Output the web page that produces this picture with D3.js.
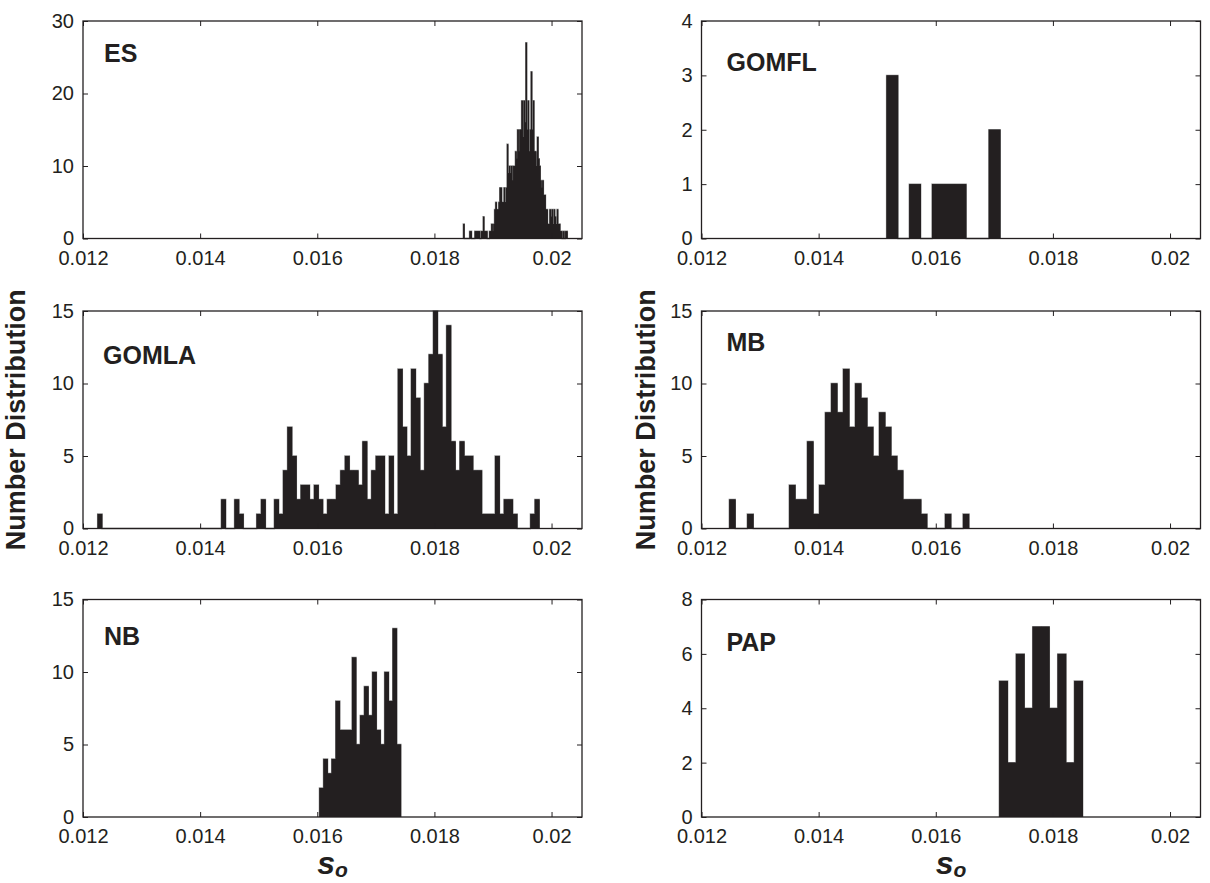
<!DOCTYPE html>
<html>
<head>
<meta charset="utf-8">
<script src="https://cdn.jsdelivr.net/npm/d3@7/dist/d3.min.js"></script>
<style>
  body { margin: 0; background: #fff; }
  svg { display: block; font-family: Arial, "Liberation Sans", Helvetica, sans-serif; }
</style>
</head>
<body>
<div id="chart"></div>
<script>
// panel names, in reading order (left->right, top->bottom)
var panelNames = ["ES", "GOMFL", "GOMLA", "MB", "NB", "PAP"];

// histogram bins: first edge and width
var binStarts = [0.018493, 0.01516, 0.01225, 0.012475, 0.016037, 0.017085];
var binWidths = [0.00001777, 0.000194, 0.0000754, 0.0001023, 0.0000695, 0.0001423];

var esCounts = [2,0,0,0,0,0,1,1,0,0,
  0,1,1,1,1,1,0,1,1,3,
  1,1,1,0,0,1,1,2,1,2,
  4,5,4,4,5,7,7,5,5,7,
  5,7,13,9,10,9,10,8,10,10,
  12,11,15,12,15,15,19,14,19,16,
  27,15,19,12,15,23,15,19,12,12,
  10,14,11,10,8,7,8,6,6,4,
  4,2,2,4,3,4,2,4,3,2,
  4,2,2,1,1,0,1,0,1,1];
var gomflCounts = [3,0,1,0,1,1,1,0,0,2];
var gomlaCounts = [1,0,0,0,0,0,0,0,0,0,
  0,0,0,0,0,0,0,0,0,0,
  0,0,0,0,0,0,0,0,2,0,
  0,2,1,0,0,0,1,2,0,0,
  2,1,4,7,5,2,3,3,2,3,
  2,1,2,2,3,4,5,4,4,3,
  6,2,4,5,5,1,5,1,11,7,
  5,11,9,4,10,12,15,12,7,14,
  6,4,6,5,5,4,4,1,1,1,
  5,1,2,2,1,0,0,0,1,2];
var mbCounts = [2,0,0,1,0,0,0,0,0,0,
  3,2,2,6,1,3,8,10,8,11,
  7,10,9,7,5,8,7,5,4,2,
  2,2,1,0,0,0,1,0,0,1];
var nbCounts = [2,4,3,4,8,6,6,6,11,5,7,9,7,10,6,5,10,8,13,5];
var papCounts = [5,2,6,4,7,7,4,6,2,5];

var yMax = [30, 4, 15, 15, 15, 8];
var yTicks = [[0,10,20,30], [0,1,2,3,4], [0,5,10,15], [0,5,10,15], [0,5,10,15], [0,2,4,6,8]];
var xTicks = [0.012, 0.014, 0.016, 0.018, 0.02];
var xTickLabels = ["0.012", "0.014", "0.016", "0.018", "0.02"];
var xDomain = [0.012, 0.02052];

var allCounts = [esCounts, gomflCounts, gomlaCounts, mbCounts, nbCounts, papCounts];

// layout
var W = 1210, H = 883;
var colLeft = [83, 701.5], plotW = 499;
var rowTop = [21, 311, 599.5], plotH = 217.5;
// label positions (offset from plot corner)
var titlePos = [[21, 41], [25, 50], [20, 53], [25, 40], [21, 45], [25, 51]];
var ylabelX = [25, 655];
var ink = "#231f20";

var svg = d3.select("#chart").append("svg")
    .attr("width", W)
    .attr("height", H);

panelNames.forEach(function(name, i) {
  var col = i % 2, row = Math.floor(i / 2);
  var left = colLeft[col], top = rowTop[row];

  var x = d3.scaleLinear().domain(xDomain).range([left, left + plotW]);
  var y = d3.scaleLinear().domain([0, yMax[i]]).range([top + plotH, top]);

  var bins = allCounts[i].map(function(c, k) {
    return { x0: binStarts[i] + k * binWidths[i], x1: binStarts[i] + (k + 1) * binWidths[i], n: c };
  });

  var g = svg.append("g").attr("class", "panel");

  // outline of the histogram (step line over the bin tops)
  var pts = [[x(bins[0].x0), y(0)]];
  bins.forEach(function(d) {
    pts.push([x(d.x0), y(d.n)]);
    pts.push([x(d.x1), y(d.n)]);
  });
  pts.push([x(bins[bins.length - 1].x1), y(0)]);
  var outline = d3.line()(pts);

  // grey edge, drawn under the bars
  g.append("path")
      .attr("d", outline)
      .attr("fill", "none")
      .attr("stroke", "#8c8c8c")
      .attr("stroke-width", 1.4);

  // bars
  g.selectAll("rect.bar")
      .data(bins.filter(function(d) { return d.n > 0; }))
      .enter()
      .append("rect")
      .attr("class", "bar")
      .attr("x", function(d) { return x(d.x0); })
      .attr("width", function(d) { return x(d.x1) - x(d.x0) + 0.3; })
      .attr("y", function(d) { return y(d.n); })
      .attr("height", function(d) { return y(0) - y(d.n); })
      .attr("fill", ink);

  // same shape filled once more, hides the seams between thin bars
  g.append("path")
      .attr("d", outline + "Z")
      .attr("fill", ink)
      .attr("stroke", "none");

  // axes, ticks pointing inward on all four sides
  g.append("g")
      .attr("transform", "translate(0," + (top + plotH) + ")")
      .call(d3.axisBottom(x).tickValues(xTicks)
        .tickFormat(function(d, k) { return xTickLabels[k]; })
        .tickSizeInner(-5).tickSizeOuter(0).tickPadding(12));
  g.append("g")
      .attr("transform", "translate(0," + top + ")")
      .call(d3.axisTop(x).tickValues(xTicks).tickFormat("")
        .tickSizeInner(-5).tickSizeOuter(0));
  g.append("g")
      .attr("transform", "translate(" + left + ",0)")
      .call(d3.axisLeft(y).tickValues(yTicks[i]).tickFormat(d3.format("d"))
        .tickSizeInner(-5).tickSizeOuter(0).tickPadding(9));
  g.append("g")
      .attr("transform", "translate(" + (left + plotW) + ",0)")
      .call(d3.axisRight(y).tickValues(yTicks[i]).tickFormat("")
        .tickSizeInner(-5).tickSizeOuter(0));

  g.selectAll(".domain").remove();
  g.selectAll(".tick line").attr("stroke", ink).attr("stroke-width", 1);
  g.selectAll(".tick text")
      .attr("fill", ink)
      .attr("font-size", 20)
      .attr("font-family", "Arial, 'Liberation Sans', Helvetica, sans-serif");

  // box
  g.append("rect")
      .attr("x", left)
      .attr("y", top)
      .attr("width", plotW)
      .attr("height", plotH)
      .attr("fill", "none")
      .attr("stroke", ink)
      .attr("stroke-width", 1.3);

  // panel label
  g.append("text")
      .attr("x", left + titlePos[i][0])
      .attr("y", top + titlePos[i][1])
      .attr("font-size", 25)
      .attr("font-weight", "bold")
      .attr("fill", ink)
      .text(name);

  // x label on the bottom row
  if (row == 2) {
    var xl = g.append("text")
        .attr("x", left + plotW / 2)
        .attr("y", 874)
        .attr("text-anchor", "middle")
        .attr("font-weight", "bold")
        .attr("font-style", "italic")
        .attr("fill", ink);
    xl.append("tspan").attr("font-size", 32).text("s");
    xl.append("tspan").attr("font-size", 21).attr("dy", 3).text("o");
  }

  // y label on the middle row
  if (row == 1) {
    g.append("text")
        .attr("transform", "translate(" + ylabelX[col] + "," + (top + plotH / 2) + ") rotate(-90)")
        .attr("text-anchor", "middle")
        .attr("font-size", 27)
        .attr("font-weight", "bold")
        .attr("fill", ink)
        .text("Number Distribution");
  }
});
</script>
</body>
</html>
